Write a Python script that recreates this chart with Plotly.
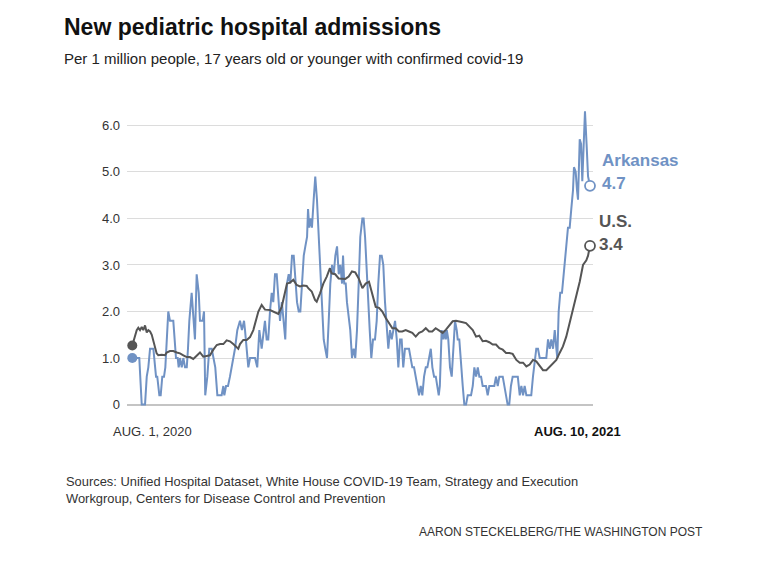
import plotly.graph_objects as go
import pandas as pd

START = pd.Timestamp("2020-08-01")
END = pd.Timestamp("2021-08-10")

# Arkansas: day offset from Aug. 1, 2020 and value (per 1 million)
ar_days = [0, 5.7, 7.7, 10.4, 11.8, 13.1, 14.5, 17.2, 19.4, 20.4, 22.1, 23.2, 24.5, 25.9, 27, 29.4, 30.8, 33.5,
           35.7, 37.1, 37.9, 39, 40.4, 41.7, 43.1, 44.5, 45.5, 46.6, 48.5, 49.8, 51.2, 52.6, 54.3, 55.3, 57.5,
           58.6, 59.6, 61.3, 62.9, 64.9, 66.2, 67.8, 69.5, 73, 74.4, 75.2, 76.6, 78.2, 79.8, 81.2, 82.5, 83.9,
           85.8, 88, 89.6, 91.3, 92.1, 93.7, 94.8, 96.2, 100.3, 102.1, 103.8, 105.7, 108.4, 109.8, 111.1, 112.5,
           113.9, 115.2, 116.6, 118, 119.3, 120.7, 122.2, 123.7, 125, 126.4, 127.8, 129.1, 130.5, 131.9, 133.2,
           134.6, 136, 137.3, 138.7, 140.1, 141.4, 142.8, 143.6, 144.6, 145.8, 146.8, 148.2, 149.5, 150.9, 152.3,
           153.6, 155, 156.4, 157.7, 159.1, 160.5, 161.8, 163.2, 164.6, 165.9, 167.3, 168.7, 170, 171.4, 172.2,
           173.2, 174.4, 175.4, 176.8, 178.1, 179.5, 180.9, 182.2, 183.6, 185, 186.3, 188, 189, 190.2, 191.2,
           192.6, 194, 195.3, 196.7, 198.3, 199.7, 201, 202.4, 203.8, 205.1, 206.5, 207.9, 209.2, 210.6, 212,
           213.3, 214.7, 216.1, 217.4, 218.8, 220.1, 221.4, 222.8, 226.1, 227.5, 228.8, 230.2, 231.6, 232.9,
           234.3, 235.7, 237, 238.4, 239.8, 241.1, 242.5, 243.9, 245.2, 246.6, 248, 249.3, 250.4, 251.3, 252.8,
           254.2, 255.3, 256.2, 257, 258.2, 259.6, 261, 262.3, 263.7, 265.1, 265.9, 267.2, 268.6, 270, 271.3,
           272.7, 274.1, 276.8, 278.2, 279.5, 280.9, 282.3, 283.6, 285, 286.3, 289, 290.4, 291.7, 295.8, 297.2,
           298.6, 299.9, 302.7, 304, 305.4, 306.7, 308, 309.4, 310.8, 315, 316.6, 317.9, 319.3, 320.6, 322, 326,
           327.4, 328.8, 330.1, 331.5, 332.9, 338.3, 339.7, 341.1, 342.4, 343.8, 345.2, 346.5, 347.3, 348.4,
           349.7, 351.1, 351.9, 353.3, 354.6, 356, 357.4, 358.7, 360.1, 360.9, 362.3, 363.4, 364.2, 365.6,
           366.7, 367.7, 368.9, 369.9, 371.2, 372.4, 374]
ar_vals = [1.0, 1.0, 0, 0, 0.6, 0.8, 1.2, 1.2, 0.6, 0.6, 0.2, 0.2, 0.6, 0.6, 0.8, 2.0, 1.8, 1.8,
           1.0, 1.0, 0.8, 1.0, 0.8, 1.0, 0.8, 0.8, 1.2, 1.8, 2.4, 1.8, 1.4, 2.8, 2.4, 1.8, 1.8,
           2.0, 0.2, 0.6, 1.2, 1.2, 1.0, 0.8, 0.2, 0.2, 0.4, 0.2, 0.4, 0.4, 0.6, 0.8, 1.0, 1.2,
           1.6, 1.8, 1.6, 1.8, 1.6, 1.0, 0.8, 1.0, 1.0, 0.8, 1.6, 1.2, 1.8, 1.4, 1.4, 2.0,
           2.4, 2.2, 2.8, 2.8, 2.2, 1.8, 2.2, 1.8, 1.4, 2.6, 2.8, 2.6, 3.2, 3.2, 2.6,
           2.2, 2.0, 2.0, 2.6, 3.2, 3.4, 3.6, 4.2, 3.8, 4.0, 3.8, 4.4, 4.9, 4.4, 3.6,
           3.2, 2.2, 1.4, 1.2, 1.0, 1.8, 2.6, 3.0, 2.8, 3.2, 3.4, 2.8, 3.0, 2.6, 3.2,
           2.6, 2.6, 2.2, 1.8, 1.6, 1.0, 1.2, 1.0, 1.6, 2.6, 3.6, 4.0, 4.0, 3.6, 3.0,
           2.2, 1.6, 1.0, 1.4, 1.4, 1.8, 2.6, 3.2, 3.2, 3.0, 2.2, 1.6, 1.2, 1.6, 1.4,
           1.6, 1.8, 1.4, 0.8, 1.4, 1.4, 0.8, 1.2, 1.2, 1.0, 0.8, 0.8, 0.6, 0.4,
           0.2, 0.4, 0.2, 0.6, 0.8, 0.8, 1.0, 1.2, 0.8, 0.6, 0.6, 0.4, 0.2, 0.4, 1.6,
           1.4, 1.6, 1.4, 1.6, 1.4, 0.8, 0.6, 1.2, 1.8, 1.6, 1.4, 1.4, 0.8, 0.4, 0,
           0, 0.2, 0.2, 0.4, 0.8, 0.6, 0.8, 0.6, 0.6, 0.4, 0.4, 0.2, 0.4, 0.4, 0.6,
           0.4, 0.6, 0.6, 0.4, 0.2, 0, 0, 0.4, 0.6, 0.6, 0.2, 0.4, 0.2, 0.4, 0.2, 0.2,
           0.6, 1.0, 1.2, 1.2, 1.0, 1.0, 1.4, 1.2, 1.4, 1.2, 1.6, 1.2, 1.0, 2.0,
           2.4, 2.4, 2.6, 3.0, 3.4, 3.8, 3.8, 4.2, 4.6, 5.1, 5.0, 4.6, 4.4, 5.7,
           5.6, 4.8, 5.7, 6.3, 5.6, 4.9, 4.7]

# U.S.
us_days = [0, 3.6, 4.9, 6.3, 7.7, 9, 10.4, 11.8, 13.1, 14.5, 15.9, 17.2, 18.5, 19.9, 21.2, 24, 26.7, 28.1,
           30.8, 33.5, 36.3, 39, 41.7, 44.5, 47.1, 49.8, 52.6, 55.3, 58, 60.8, 63.5, 66.2, 69, 71.7, 74.4,
           77.1, 79.8, 82.5, 85.3, 86.6, 88, 90.7, 93.5, 96.2, 98.9, 100.3, 103, 105.7, 108.4, 112.5, 115.2,
           118, 119.3, 122.1, 124.8, 126.4, 128.9, 131.6, 134.3, 137, 139.7, 142.5, 143.8, 146.6, 149.3, 150.7,
           153.4, 156.1, 158.9, 161.5, 162.8, 165.8, 168.6, 171.4, 174.1, 176.8, 179.5, 182.2, 185, 188, 190.7,
           193.4, 196.1, 198.9, 201.6, 204.3, 207.1, 209.8, 212.5, 215.2, 217.9, 220.6, 223.4, 226.1, 228.8,
           231.6, 234.3, 237, 239.8, 242.5, 245.1, 247.9, 250.6, 253.6, 256.3, 259, 261.8, 264.5, 267.2, 270,
           272.7, 275.4, 278.2, 280.9, 283.5, 286.3, 289, 291.7, 294.5, 297.2, 299.9, 302.7, 305.4, 308.1,
           310.8, 313.8, 316.6, 319.3, 322, 324.7, 327.4, 330.1, 332.9, 335.6, 338.3, 341.1, 343.8, 346.5,
           349.2, 351.9, 354.6, 357.4, 360.1, 362.8, 365.6, 368.3, 371, 372.4, 374]
us_vals = [1.27, 1.6, 1.65, 1.6, 1.67, 1.6, 1.7, 1.55, 1.6, 1.57, 1.5, 1.35, 1.22, 1.1, 1.06, 1.07, 1.06, 1.12,
           1.15, 1.15, 1.12, 1.1, 1.06, 1.02, 1.02, 0.98, 1.05, 1.12, 1.03, 1.04, 1.06, 1.18, 1.28, 1.3, 1.3,
           1.38, 1.36, 1.3, 1.22, 1.2, 1.3, 1.39, 1.39, 1.45, 1.6, 1.75, 2.0, 2.14, 2.04, 2.03, 2.0,
           1.98, 1.95, 2.1, 2.39, 2.6, 2.62, 2.68, 2.57, 2.54, 2.56, 2.55, 2.5, 2.43, 2.25, 2.21,
           2.39, 2.6, 2.75, 2.93, 2.82, 2.8, 2.71, 2.71, 2.7, 2.75, 2.86, 2.84, 2.71, 2.5, 2.6,
           2.64, 2.39, 2.1, 2.08, 2.0, 1.86, 1.75, 1.64, 1.64, 1.57, 1.57, 1.6, 1.57, 1.54,
           1.46, 1.54, 1.57, 1.64, 1.57, 1.57, 1.64, 1.6, 1.54, 1.61, 1.71, 1.79, 1.8, 1.79, 1.77,
           1.75, 1.68, 1.6, 1.46, 1.48, 1.36, 1.37, 1.34, 1.29, 1.29, 1.21, 1.18, 1.11, 1.11,
           1.09, 0.96, 0.9, 0.9, 0.82, 0.86, 0.96, 0.93, 0.82, 0.74, 0.74, 0.82, 0.89, 0.96,
           1.11, 1.25, 1.46, 1.75, 2.04, 2.32, 2.64, 3.0, 3.1, 3.2, 3.41]

y_ticks = [0, 1, 2, 3, 4, 5, 6]
y_tick_text = ["0", "1.0", "2.0", "3.0", "4.0", "5.0", "6.0"]

ar_label, ar_end_text = "Arkansas", "4.7"
us_label, us_end_text = "U.S.", "3.4"
start_label, end_label = "AUG. 1, 2020", "AUG. 10, 2021"

BLUE = "#7092c4"
GRAY = "#555555"
FONT = "Liberation Sans, Arial, sans-serif"

ar_x = START + pd.to_timedelta(ar_days, unit="D")
us_x = START + pd.to_timedelta(us_days, unit="D")

# plot area geometry (pixels)
W, H = 768, 565
L, R = 127, 593
YMIN, YMAX = -0.03, 6.5
ZERO_PX = 405.0
PX_PER_UNIT = 46.67
T = ZERO_PX - YMAX * PX_PER_UNIT
B = ZERO_PX - YMIN * PX_PER_UNIT
PW, PH = R - L, B - T


def pxx(x):
    return (x - L) / PW


def pxy(y):
    return (B - y) / PH


fig = go.Figure()
fig.add_trace(go.Scatter(x=ar_x, y=ar_vals, mode="lines", line=dict(color=BLUE, width=2), hoverinfo="skip"))
fig.add_trace(go.Scatter(x=us_x, y=us_vals, mode="lines", line=dict(color=GRAY, width=2), hoverinfo="skip"))
# start markers
fig.add_trace(go.Scatter(x=[ar_x[0]], y=[ar_vals[0]], mode="markers",
                         marker=dict(size=10, color=BLUE), cliponaxis=False))
fig.add_trace(go.Scatter(x=[us_x[0]], y=[us_vals[0]], mode="markers",
                         marker=dict(size=10, color=GRAY), cliponaxis=False))
# end markers
fig.add_trace(go.Scatter(x=[ar_x[-1]], y=[ar_vals[-1]], mode="markers",
                         marker=dict(size=10, color="white", line=dict(color=BLUE, width=1.8)), cliponaxis=False))
fig.add_trace(go.Scatter(x=[us_x[-1]], y=[us_vals[-1]], mode="markers",
                         marker=dict(size=10, color="white", line=dict(color=GRAY, width=1.8)), cliponaxis=False))

x0 = START - pd.Timedelta(days=(132.3 - L) / 1.2238)
x1 = END + pd.Timedelta(days=(R - 590) / 1.2238)

annotations = [
    dict(text="<b>New pediatric hospital admissions</b>", xref="paper", yref="paper",
         x=pxx(62), y=pxy(26), xanchor="left", yanchor="middle", showarrow=False,
         font=dict(family=FONT, size=23, color="#111111")),
    dict(text="Per 1 million people, 17 years old or younger with confirmed covid-19", xref="paper", yref="paper",
         x=pxx(62), y=pxy(58), xanchor="left", yanchor="middle", showarrow=False,
         font=dict(family=FONT, size=15, color="#222222")),
    dict(text=start_label, xref="x", yref="paper", x=START, y=0, xshift=-21, yshift=-25,
         xanchor="left", yanchor="middle", showarrow=False, font=dict(family=FONT, size=13, color="#333333")),
    dict(text="<b>" + end_label + "</b>", xref="x", yref="paper", x=END, y=0, xshift=33, yshift=-25,
         xanchor="right", yanchor="middle", showarrow=False, font=dict(family=FONT, size=13, color="#111111")),
    dict(text="Sources: Unified Hospital Dataset, White House COVID-19 Team, Strategy and Execution<br>"
              "Workgroup, Centers for Disease Control and Prevention", xref="paper", yref="paper",
         x=pxx(64), y=pxy(491), xanchor="left", yanchor="middle", align="left", showarrow=False,
         font=dict(family=FONT, size=12.9, color="#333333")),
    dict(text="AARON STECKELBERG/THE WASHINGTON POST", xref="paper", yref="paper",
         x=pxx(705), y=pxy(533), xanchor="right", yanchor="middle", showarrow=False,
         font=dict(family=FONT, size=12, color="#333333")),
    dict(text="<b>" + ar_label + "</b>", xref="x", yref="y", x=ar_x[-1], y=ar_vals[-1], xshift=10, yshift=25,
         xanchor="left", yanchor="middle", showarrow=False, font=dict(family=FONT, size=17, color=BLUE)),
    dict(text="<b>" + ar_end_text + "</b>", xref="x", yref="y", x=ar_x[-1], y=ar_vals[-1], xshift=10, yshift=2,
         xanchor="left", yanchor="middle", showarrow=False, font=dict(family=FONT, size=17, color=BLUE)),
    dict(text="<b>" + us_label + "</b>", xref="x", yref="y", x=us_x[-1], y=us_vals[-1], xshift=7, yshift=24,
         xanchor="left", yanchor="middle", showarrow=False, font=dict(family=FONT, size=17, color=GRAY)),
    dict(text="<b>" + us_end_text + "</b>", xref="x", yref="y", x=us_x[-1], y=us_vals[-1], xshift=7, yshift=1,
         xanchor="left", yanchor="middle", showarrow=False, font=dict(family=FONT, size=17, color=GRAY)),
]

fig.update_layout(
    width=W, height=H,
    margin=dict(l=L, r=W - R, t=T, b=H - B, pad=0),
    paper_bgcolor="white", plot_bgcolor="white",
    showlegend=False,
    annotations=annotations,
    xaxis=dict(type="date", range=[x0, x1], showgrid=False, showticklabels=False, zeroline=False,
               showline=False, ticks=""),
    yaxis=dict(range=[YMIN, YMAX], tickvals=y_ticks, ticktext=y_tick_text, showgrid=True,
               gridcolor="#dcdcdc", gridwidth=1, zeroline=True, zerolinecolor="#c4c4c4", zerolinewidth=2,
               showline=False, ticks="", ticklabelstandoff=6,
               tickfont=dict(family=FONT, size=13, color="#333333")),
)

fig.write_html("out.html")
